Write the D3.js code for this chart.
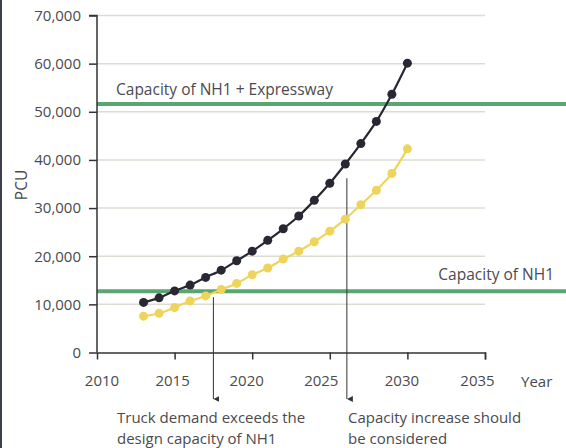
<!DOCTYPE html>
<html>
<head>
<meta charset="utf-8">
<script src="https://cdn.jsdelivr.net/npm/d3@7/dist/d3.min.js"></script>
<style>
  html, body { margin: 0; padding: 0; background: #fff; }
  svg { display: block; font-family: "Open Sans", Lato, sans-serif; }
</style>
</head>
<body>
<svg id="chart" width="566" height="448"></svg>
<script>
// Traffic demand projection, PCU per year
const years = [2013, 2014, 2015, 2016, 2017, 2018, 2019, 2020, 2021, 2022,
               2023, 2024, 2025, 2026, 2027, 2028, 2029, 2030];
const totalDemand = [10400, 11350, 12800, 14000, 15600, 17100, 19050, 21050, 23300, 25700,
                     28350, 31600, 35150, 39150, 43400, 48000, 53650, 60100];
const truckDemand = [7550, 8150, 9350, 10700, 11750, 13100, 14350, 16150, 17550, 19400,
                     21050, 23000, 25200, 27700, 30700, 33700, 37200, 42300];
const capacities = [
  { label: "Capacity of NH1 + Expressway", value: 51600 },
  { label: "Capacity of NH1", value: 12700 }
];
const yTicks = [0, 10000, 20000, 30000, 40000, 50000, 60000, 70000];
const xTicks = [2010, 2015, 2020, 2025, 2030, 2035];
const notes = [
  { year: 2017.5, from: 11500, lines: ["Truck demand exceeds the", "design capacity of NH1"] },
  { year: 2026.1, from: 36200, lines: ["Capacity increase should", "be considered"] }
];

const svg = d3.select("#chart");
const W = 566;
const FONT = "'Open Sans', Lato, sans-serif";
const FS = 15.5;      // labels
const FT = 15;        // tick labels
const FN = 15;        // notes
const textColor = "#4a4a4f";
// small horizontal nudges for the year labels under their ticks
const yearLabelShift = [4.5, -2.5, -6, -9, -6, -8];

const x = d3.scaleLinear().domain([2010, 2035]).range([97, 485]);
const y = d3.scaleLinear().domain([0, 70000]).range([352.5, 15.5]);

// left frame edge
svg.append("rect").attr("x", 0).attr("y", 0).attr("width", 2).attr("height", 448).attr("fill", "#3b404c");

// gridlines
svg.append("g").selectAll("line").data(yTicks.filter(d => d > 0)).join("line")
  .attr("x1", x(2010)).attr("x2", x(2035))
  .attr("y1", d => y(d)).attr("y2", d => y(d))
  .attr("stroke", "#dcdcd5").attr("stroke-width", 1.5);

// capacity lines
const cap = svg.append("g");
cap.selectAll("line").data(capacities).join("line")
  .attr("x1", x(2010)).attr("x2", W)
  .attr("y1", d => y(d.value)).attr("y2", d => y(d.value))
  .attr("stroke", "#5aa672").attr("stroke-width", 4);
cap.append("text")
  .attr("x", 116).attr("y", y(capacities[0].value) - 9)
  .attr("fill", textColor).attr("font-size", FS)
  .text(capacities[0].label);
cap.append("text")
  .attr("x", 554).attr("y", y(capacities[1].value) - 11)
  .attr("text-anchor", "end")
  .attr("fill", textColor).attr("font-size", FS)
  .text(capacities[1].label);

// axes
const yAxis = svg.append("g").attr("transform", `translate(${x(2010)},0)`)
  .call(d3.axisLeft(y).tickValues(yTicks).tickSize(8).tickPadding(8).tickFormat(d3.format(",")));
const xAxis = svg.append("g").attr("transform", `translate(0,${y(0)})`)
  .call(d3.axisBottom(x).tickValues(xTicks).tickSize(7).tickPadding(16).tickFormat(d3.format("d")));
[yAxis, xAxis].forEach(g => {
  g.select(".domain").attr("stroke", "#333").attr("stroke-width", 1.5);
  g.selectAll(".tick line").attr("stroke", "#333").attr("stroke-width", 1.5);
  g.selectAll(".tick text").attr("fill", textColor).attr("font-size", FT)
    .attr("font-family", FONT);
});
xAxis.selectAll(".tick text").attr("dx", (d, i) => yearLabelShift[i]);
xAxis.selectAll(".tick").filter(d => d === 2010).select("line").remove();
yAxis.select(".domain").attr("d", `M-8,${y(70000)}H0V${y(0)}`);

svg.append("text").attr("x", 521).attr("y", 387)
  .attr("fill", textColor).attr("font-size", FT).text("Year");
svg.append("text")
  .attr("transform", `translate(27,185) rotate(-90)`)
  .attr("text-anchor", "middle")
  .attr("fill", textColor).attr("font-size", FS).text("PCU");

// annotation arrows
svg.append("defs").append("marker")
  .attr("id", "arrow").attr("viewBox", "0 0 10 10")
  .attr("refX", 5).attr("refY", 10)
  .attr("markerWidth", 6).attr("markerHeight", 6)
  .attr("markerUnits", "userSpaceOnUse").attr("orient", "auto-start-reverse")
  .append("path").attr("d", "M0,0L10,0L5,10Z").attr("fill", "#333");

const ann = svg.append("g").selectAll("g").data(notes).join("g");
ann.append("line")
  .attr("x1", d => x(d.year)).attr("x2", d => x(d.year))
  .attr("y1", d => y(d.from)).attr("y2", 399)
  .attr("stroke", "#333").attr("stroke-width", 1)
  .attr("marker-end", "url(#arrow)");
ann.each(function(d, i) {
  const tx = i === 0 ? 117 : 348;
  const g = d3.select(this);
  d.lines.forEach((l, k) => g.append("text")
    .attr("x", tx).attr("y", 423 + k * 20.6)
    .attr("fill", textColor).attr("font-size", FN)
    .text(l));
});

// demand series
const series = [
  { values: totalDemand, color: "#272833" },
  { values: truckDemand, color: "#efd45c" }
];
const line = d3.line().x((d, i) => x(years[i])).y(d => y(d)).curve(d3.curveCatmullRom);
series.slice().reverse().forEach(s => {
  const g = svg.append("g");
  g.append("path").attr("d", line(s.values))
    .attr("fill", "none").attr("stroke", s.color).attr("stroke-width", 2.2);
  g.selectAll("circle").data(s.values).join("circle")
    .attr("cx", (d, i) => x(years[i])).attr("cy", d => y(d))
    .attr("r", 4.5).attr("fill", s.color);
});
</script>
</body>
</html>
